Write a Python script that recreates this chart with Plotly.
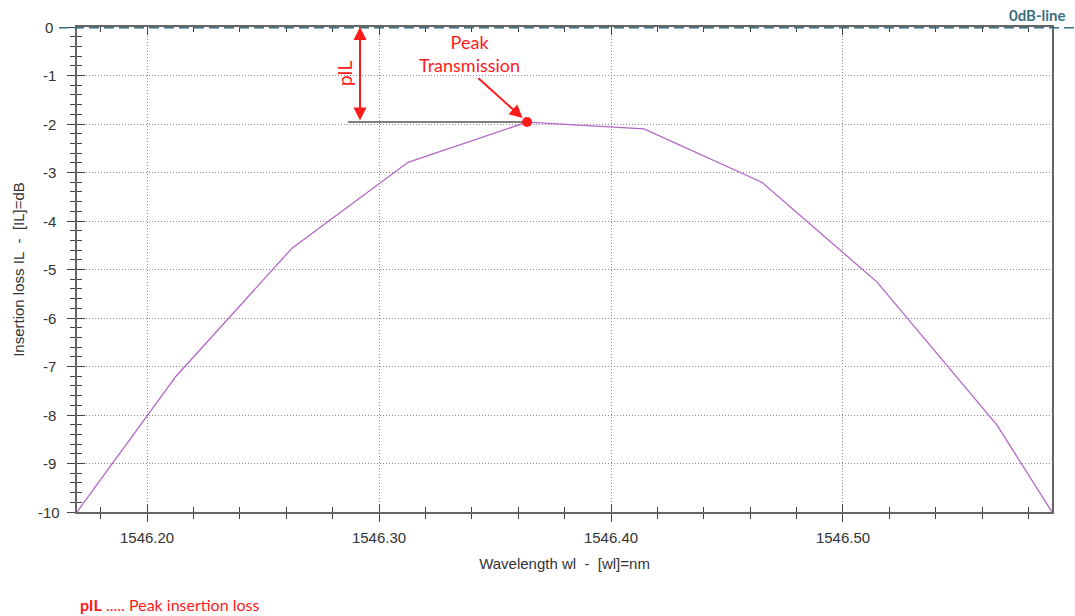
import plotly.graph_objects as go

# ---- data ----
wavelength_nm = [1546.1698, 1546.2125, 1546.2625, 1546.3125, 1546.3638,
                 1546.4142, 1546.4650, 1546.5147, 1546.5664, 1546.5901]
insertion_loss_db = [-10.0, -7.20, -4.56, -2.79, -1.96,
                     -2.10, -3.20, -5.26, -8.21, -10.0]

y_tick_values = [0, -1, -2, -3, -4, -5, -6, -7, -8, -9, -10]
y_tick_labels = ["0", "-1", "-2", "-3", "-4", "-5", "-6", "-7", "-8", "-9", "-10"]

x_range = [1546.1698, 1546.5901]
y_range = [-10, 0]
x_major = 0.1
x_minor = 0.02
y_minor = 0.2

# annotation anchors
pil_arrow_x = 1546.2918
pil_line_start_x = 1546.2866
label_x = 1546.3392
arrow_tail = (1546.3422, -1.03)

peak_i = max(range(len(insertion_loss_db)), key=lambda i: insertion_loss_db[i])
peak_x = wavelength_nm[peak_i]
peak_y = insertion_loss_db[peak_i]

RED = "#ff1a1a"
TEAL = "#3a6f80"
AXIS_FONT = dict(family="Liberation Sans, Arial, sans-serif", size=15, color="#333333")
GRID_DASH = "1px,2px"
NB = "\u00a0"

fig = go.Figure()

fig.add_trace(go.Scatter(
    x=wavelength_nm, y=insertion_loss_db, mode="lines",
    line=dict(color="#b366c6", width=1.3), showlegend=False, hoverinfo="x+y"))

# invisible trace to host the overlay axes (inside ticks)
fig.add_trace(go.Scatter(
    x=wavelength_nm, y=insertion_loss_db, xaxis="x2", yaxis="y2", mode="lines",
    opacity=0, showlegend=False, hoverinfo="skip"))

# peak marker
fig.add_trace(go.Scatter(
    x=[peak_x], y=[peak_y], mode="markers",
    marker=dict(color=RED, size=10), showlegend=False))

fig.update_layout(
    width=1075, height=616,
    margin=dict(l=77, r=23, t=27, b=104),
    paper_bgcolor="white", plot_bgcolor="white",
    xaxis=dict(
        range=x_range, tick0=1546.2, dtick=x_major, tickformat=".2f",
        ticks="outside", ticklen=8, tickwidth=1, tickcolor="#444",
        minor=dict(dtick=x_minor, tick0=1546.2, ticks="outside", ticklen=5,
                   tickcolor="#444", showgrid=False),
        showline=True, linecolor="#666", linewidth=1.5, mirror=True,
        showgrid=True, gridcolor="#8a8a8a", griddash=GRID_DASH, gridwidth=1,
        zeroline=False, tickfont=AXIS_FONT, ticklabelstandoff=3,
        title=dict(text=f"Wavelength wl{NB}{NB}-{NB}{NB}[wl]=nm", font=AXIS_FONT, standoff=14),
    ),
    xaxis2=dict(
        range=x_range, overlaying="x", anchor="y2", side="bottom",
        tick0=1546.2, dtick=x_major,
        ticks="inside", ticklen=8, tickwidth=1, tickcolor="#444", mirror="ticks",
        minor=dict(dtick=x_minor, tick0=1546.2, ticks="inside", ticklen=5,
                   tickcolor="#444", showgrid=False),
        showline=False, showgrid=False, zeroline=False, showticklabels=False,
    ),
    yaxis=dict(
        range=y_range, tickmode="array", tickvals=y_tick_values,
        ticks="outside", ticklen=8, tickwidth=1, tickcolor="#444",
        minor=dict(dtick=y_minor, tick0=0, ticks="outside", ticklen=5,
                   tickcolor="#444", showgrid=False),
        showline=True, linecolor="#666", linewidth=1.5, mirror=True,
        showgrid=True, gridcolor="#8a8a8a", griddash=GRID_DASH, gridwidth=1,
        zeroline=False, showticklabels=False,
        title=dict(text=f"Insertion loss IL{NB}{NB}-{NB}{NB}[IL]=dB", font=AXIS_FONT, standoff=39),
    ),
    yaxis2=dict(
        range=y_range, overlaying="y", anchor="x2", side="left",
        tickmode="array", tickvals=y_tick_values,
        ticks="inside", ticklen=8, tickwidth=1, tickcolor="#444",
        minor=dict(dtick=y_minor, tick0=0, ticks="inside", ticklen=5,
                   tickcolor="#444", showgrid=False),
        showline=False, showgrid=False, zeroline=False, showticklabels=False,
    ),
)

# centered y tick labels (as in the reference)
for v, t in zip(y_tick_values, y_tick_labels):
    fig.add_annotation(x=0, y=v, xref="paper", yref="y", xshift=-28,
                       xanchor="center", yanchor="middle", text=t, showarrow=False,
                       font=AXIS_FONT)

# 0 dB dashed line (extends beyond plot area)
fig.add_shape(type="line", xref="paper", yref="y",
              x0=-0.0185, x1=1.03, y0=0, y1=0,
              line=dict(color=TEAL, width=3, dash="10px,5px"), layer="above")

# gray horizontal reference line at peak level
fig.add_shape(type="line", xref="x", yref="y",
              x0=pil_line_start_x, x1=peak_x, y0=peak_y, y1=peak_y,
              line=dict(color="#555555", width=1.5), layer="below")

# pIL double-headed arrow
fig.add_annotation(x=pil_arrow_x, y=0, ax=pil_arrow_x, ay=peak_y,
                   xref="x", yref="y", axref="x", ayref="y",
                   text="", showarrow=True, arrowhead=2, startarrowhead=2,
                   arrowside="end+start", arrowsize=1.3, startarrowsize=1.3,
                   arrowwidth=2, arrowcolor=RED)

fig.add_annotation(x=pil_arrow_x, y=-0.95, xref="x", yref="y",
                   xanchor="center", yanchor="middle", xshift=-16,
                   text="pIL", textangle=-90, showarrow=False,
                   font=dict(family="Lato, Open Sans, sans-serif", size=19, color=RED))

# Peak transmission label and arrow
fig.add_annotation(x=label_x, y=-0.55, xref="x", yref="y",
                   text="Peak<br>Transmission", showarrow=False,
                   xanchor="center", yanchor="middle",
                   font=dict(family="Lato, Open Sans, sans-serif", size=18, color=RED))
fig.add_annotation(x=peak_x, y=peak_y, ax=arrow_tail[0], ay=arrow_tail[1],
                   xref="x", yref="y", axref="x", ayref="y",
                   text="", showarrow=True, arrowhead=2, arrowsize=1.3,
                   arrowwidth=2, arrowcolor=RED, standoff=6)

# 0dB-line label
fig.add_annotation(x=1.0, y=1.0, xref="paper", yref="paper",
                   xanchor="center", yanchor="middle", xshift=-15, yshift=12,
                   text="<b>0dB-line</b>", showarrow=False,
                   font=dict(family="Lato, Open Sans, sans-serif", size=15, color=TEAL))

# footnote
fig.add_annotation(x=0, y=0, xref="paper", yref="paper",
                   xanchor="left", yanchor="middle", xshift=1, yshift=-92,
                   text="<b>pIL</b> ..... Peak insertion loss", showarrow=False,
                   font=dict(family="Lato, Open Sans, sans-serif", size=16, color=RED))

fig.write_html("out.html")
